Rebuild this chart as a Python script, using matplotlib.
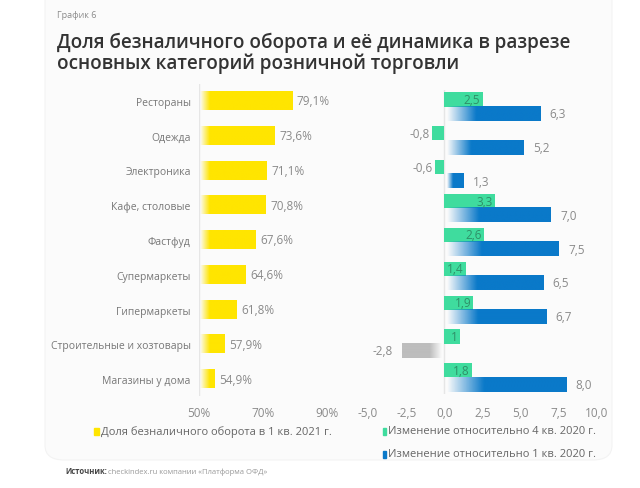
import matplotlib.pyplot as plt
import numpy as np
from matplotlib.colors import to_rgb
from matplotlib.patches import FancyBboxPatch, Rectangle

categories = ["Рестораны", "Одежда", "Электроника", "Кафе, столовые", "Фастфуд",
              "Супермаркеты", "Гипермаркеты", "Строительные и хозтовары", "Магазины у дома"]
share = [79.1, 73.6, 71.1, 70.8, 67.6, 64.6, 61.8, 57.9, 54.9]
chg_q4 = [2.5, -0.8, -0.6, 3.3, 2.6, 1.4, 1.9, 1.0, 1.8]
chg_q1 = [6.3, 5.2, 1.3, 7.0, 7.5, 6.5, 6.7, -2.8, 8.0]
left_ticks = [50, 70, 90]
right_ticks = [-5.0, -2.5, 0.0, 2.5, 5.0, 7.5, 10.0]

YELLOW = "#FFE500"
GREEN = "#3FDC9E"
BLUE = "#0A79C9"
GREY = "#BDBDBD"
TXT = "#8a8a8a"

plt.rcParams["font.family"] = ["Open Sans", "DejaVu Sans"]


def grad_bar(ax, x0, x1, yc, h, color, fade, reverse=False):
    # bar that fades in from white over `fade` data units
    n = 200
    xs = np.linspace(x0, x1, n)
    if not reverse:
        a = np.clip((xs - x0) / fade, 0, 1)
    else:
        a = np.clip((x1 - xs) / fade, 0, 1)
    img = np.zeros((1, n, 4))
    img[..., :3] = to_rgb(color)
    img[..., 3] = a
    ax.imshow(img, extent=(x0, x1, yc + h / 2, yc - h / 2), aspect="auto",
              interpolation="bilinear", zorder=2)


fig = plt.figure(figsize=(6.4, 4.89), dpi=100)
fig.patch.set_facecolor("white")
card = FancyBboxPatch((45 / 640, 28 / 489), 567 / 640, 500 / 489,
                      boxstyle="round,pad=0,rounding_size=0.03",
                      transform=fig.transFigure, facecolor="#fbfbfb",
                      edgecolor="#f3f3f3", lw=0.8, zorder=-10)
fig.patches.append(card)

fig.text(57 / 640, 1 - 16 / 489, "График 6", fontsize=6.5, color="#8a8a8a", va="center")
fig.text(57 / 640, 1 - 43 / 489, "Доля безналичного оборота и её динамика в разрезе",
         fontsize=13.6, fontweight="semibold", color="#333333", va="center")
fig.text(57 / 640, 1 - 64 / 489, "основных категорий розничной торговли",
         fontsize=13.6, fontweight="semibold", color="#333333", va="center")

y = np.arange(len(categories))

# left panel: share of cashless turnover
axl = fig.add_axes([199 / 640, (489 - 397.4) / 489, 136 / 640, 312.8 / 489])
axl.set_facecolor("none")
for i, v in enumerate(share):
    grad_bar(axl, 50.3, v, y[i], 0.52, YELLOW, 3.0)
    axl.text(v + 1.5, y[i], f"{v:.1f}%".replace(".", ","), va="center", ha="left",
             fontsize=8.5, color=TXT)
axl.axvline(50, color="#e6e6e6", lw=1, zorder=1)
axl.set_xlim(50, 92.5)
axl.set_ylim(8.5, -0.5)
axl.set_yticks(y)
axl.set_yticklabels(categories, fontsize=7.5, color="#777777")
axl.set_xticks(left_ticks)
axl.set_xticklabels([f"{t}%" for t in left_ticks], fontsize=8.5, color=TXT)
axl.tick_params(length=0)
axl.tick_params(axis="y", pad=6)
axl.tick_params(axis="x", pad=7)
for s in axl.spines.values():
    s.set_visible(False)

# right panel: change vs previous periods
axr = fig.add_axes([368 / 640, (489 - 395.4) / 489, 229 / 640, 304.8 / 489])
axr.set_facecolor("none")
h = 0.42
for i in range(len(categories)):
    g = chg_q4[i]
    axr.barh(y[i] - h / 2, g, height=h, color=GREEN, zorder=2)
    lbl = ("%g" % g).replace(".", ",")
    if g >= 0:
        axr.text(g - 0.15, y[i] - h / 2, lbl, ha="right", va="center", fontsize=8.5,
                 color="#2f8f68", zorder=3)
    else:
        axr.text(g - 0.15, y[i] - h / 2, lbl, ha="right", va="center", fontsize=8.5,
                 color=TXT, zorder=3)
    b = chg_q1[i]
    lbl = f"{b:.1f}".replace(".", ",")
    if b >= 0:
        grad_bar(axr, 0.2, b, y[i] + h / 2, h, BLUE, 0.3 * b)
        axr.text(b + 0.6, y[i] + h / 2, lbl, ha="left", va="center", fontsize=8.5, color=TXT)
    else:
        grad_bar(axr, b, -0.2, y[i] + h / 2, h, GREY, 0.8, reverse=True)
        axr.text(b - 0.6, y[i] + h / 2, lbl, ha="right", va="center", fontsize=8.5, color=TXT)
axr.axvline(0, color="#e6e6e6", lw=1, zorder=1)
axr.set_xlim(-5, 10)
axr.set_ylim(8.5, -0.5)
axr.set_yticks([])
axr.set_xticks(right_ticks)
axr.set_xticklabels([f"{t:.1f}".replace(".", ",") for t in right_ticks], fontsize=8.5, color=TXT)
axr.tick_params(length=0, pad=8)
for s in axr.spines.values():
    s.set_visible(False)

# legend
fig.patches.append(Rectangle((94 / 640, 1 - 436 / 489), 5 / 640, 7 / 489,
                             transform=fig.transFigure, color=YELLOW))
fig.text(101 / 640, 1 - 432 / 489, "Доля безналичного оборота в 1 кв. 2021 г.",
         fontsize=8, color="#666666", va="center")
fig.patches.append(Rectangle((383 / 640, 1 - 436 / 489), 3 / 640, 7 / 489,
                             transform=fig.transFigure, color=GREEN))
fig.text(388 / 640, 1 - 432 / 489, "Изменение относительно 4 кв. 2020 г.",
         fontsize=8, color="#666666", va="center")
fig.patches.append(Rectangle((383 / 640, 1 - 459 / 489), 3 / 640, 7 / 489,
                             transform=fig.transFigure, color=BLUE))
fig.text(388 / 640, 1 - 455 / 489, "Изменение относительно 1 кв. 2020 г.",
         fontsize=8, color="#666666", va="center")

fig.text(65 / 640, 1 - 472 / 489, "Источник:", fontsize=5.5, fontweight="bold",
         color="#444444", va="center")
fig.text(108 / 640, 1 - 472 / 489, "checkindex.ru компании «Платформа ОФД»",
         fontsize=5.5, color="#999999", va="center")

fig.savefig("out.png", dpi=100)
